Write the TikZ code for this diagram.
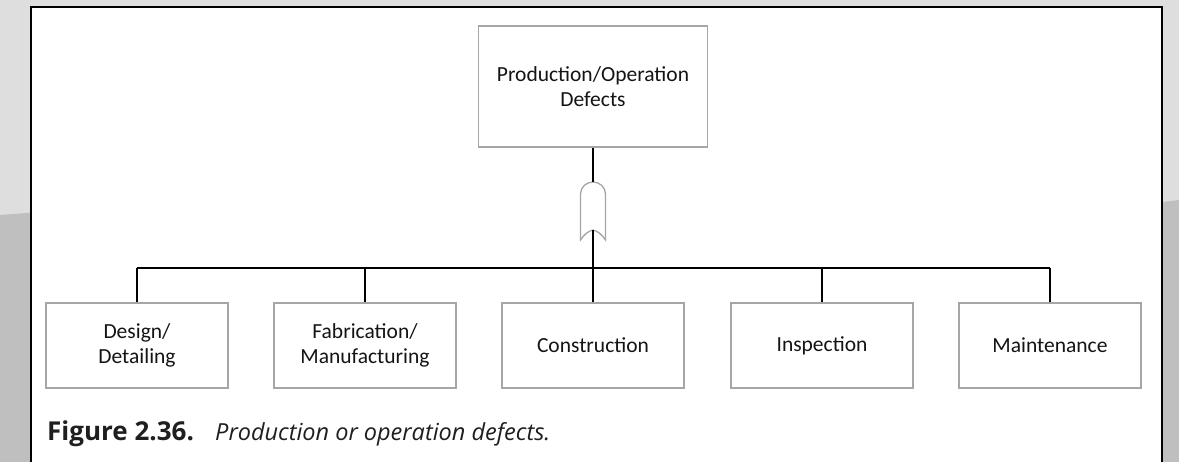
\documentclass[tikz,border=0pt]{standalone}
\usepackage{fontspec}
\setmainfont{Carlito}
\newfontfamily\capfont{Open Sans}
\begin{document}
\begin{tikzpicture}[x=1pt,y=-1pt,
  boxstyle/.style={draw=black!35,line width=1.4pt,fill=white,minimum width=182pt,
    minimum height=85pt,align=center,inner sep=0pt,text=black!92,
    font=\fontsize{21.5}{25}\selectfont},
  link/.style={draw=black,line width=1.9pt},
  gatestyle/.style={draw=black!35,line width=1.3pt,fill=white},
  capstyle/.style={anchor=base west,inner sep=0pt,text=black!88}]
% page and backdrop
\useasboundingbox (0,0) rectangle (1179,462);
\fill[black!13] (0,0) rectangle (1179,462);
\fill[black!25] (0,215) -- (40,212) -- (1140,205) -- (1179,200) -- (1179,462) -- (0,462) -- cycle;
\fill[white] (31,7) rectangle (1162,470);
\draw[line width=1.8pt] (31,470) -- (31,7) -- (1162,7) -- (1162,470);

% top event
\node[boxstyle,minimum width=229pt,minimum height=121pt] (top) at (593,86.5)
  {Production/Operation\\Defects};

% gate
\coordinate (gtop) at (593,182);
\coordinate (gbot) at (593,230);
\coordinate (bus) at (593,268);
\path[gatestyle] (580.5,240) -- (580.5,194)
  .. controls (580.5,187) and (586.5,182) .. (593,182)
  .. controls (599.5,182) and (605.5,187) .. (605.5,194) -- (605.5,240)
  .. controls (601.5,234) and (597.5,231) .. (593,230)
  .. controls (588.5,231) and (584.5,234) .. (580.5,240) -- cycle;

% basic events
\node[boxstyle] (b1) at (137,345.5) {Design/\\Detailing};
\node[boxstyle] (b2) at (365,345.5) {Fabrication/\\Manufacturing};
\node[boxstyle] (b3) at (593,345.5) {Construction};
\node[boxstyle] (b4) at (822,345.5) {Inspection};
\node[boxstyle] (b5) at (1050,345.5) {Maintenance};

% connectors
\draw[link] (top.south) -- (gtop);
\draw[link] (gbot) -- (bus);
\draw[link] (b1.north |- bus) -- (b5.north |- bus);
\foreach \b in {b1,b2,b3,b4,b5} \draw[link] (\b.north) -- (\b.north |- bus);

% caption
\node[capstyle,font=\capfont\bfseries\fontsize{26}{30}\selectfont] (capnum) at (47,440) {Figure 2.36.};
\node[capstyle,font=\capfont\itshape\fontsize{23.5}{28}\selectfont] (captext) at (215,440) {Production or operation defects.};
\end{tikzpicture}
\end{document}
